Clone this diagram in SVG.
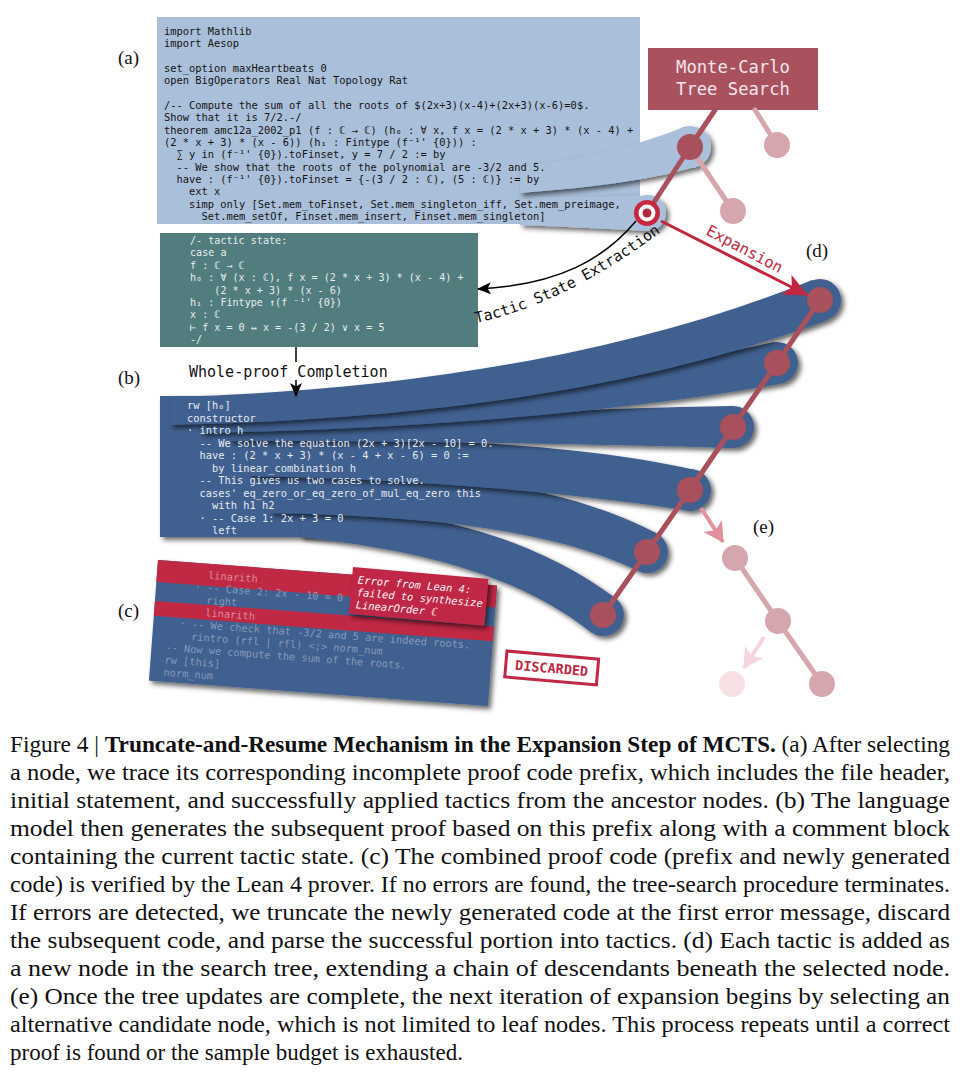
<svg xmlns="http://www.w3.org/2000/svg" width="969" height="1077" viewBox="0 0 969 1077" xml:space="preserve">
<defs>
<style>
.code{font-family:"DejaVu Sans Mono",monospace;white-space:pre;}
.cA{font-size:10.4px;fill:#141414;}
.cT{font-size:10.1px;fill:#E8EEEE;}
.cB{font-size:10.4px;fill:#E6EAF1;}
.cC{font-size:10.3px;fill:#8599B7;}
.cCr{fill:#DE8A9C;}
.lbl{font-family:"Liberation Serif",serif;font-size:19px;fill:#111;}
.cap{font-family:"Liberation Serif",serif;font-size:23px;fill:#111;}
.big{font-family:"DejaVu Sans Mono",monospace;font-size:15px;fill:#111;}
.lb{fill:#AABFD9;}
.db{fill:#41608F;}
.nd{fill:#A8505C;}
.pk{fill:#D6A6AE;}
.edge{stroke:#A8505C;stroke-width:5;stroke-linecap:round;fill:none;}
.pedge{stroke:#D6A6AE;stroke-width:5;stroke-linecap:round;fill:none;}
</style>
<filter id="sh" x="-10%" y="-40%" width="130%" height="190%">
<feDropShadow dx="3" dy="3" stdDeviation="2.5" flood-color="#000" flood-opacity="0.6"/>
</filter>
<marker id="mBlack" markerUnits="userSpaceOnUse" markerWidth="16" markerHeight="14" refX="13" refY="6" orient="auto">
<path d="M0,0 L14,6 L0,12 L3.5,6 Z" fill="#000"/>
</marker>
<marker id="mRed" markerUnits="userSpaceOnUse" markerWidth="26" markerHeight="24" refX="23" refY="11" orient="auto">
<path d="M0,0 L24,11 L0,22 L6,11 Z" fill="#C2273F"/>
</marker>
<marker id="mPink" markerUnits="userSpaceOnUse" markerWidth="24" markerHeight="24" refX="19" refY="11" orient="auto">
<path d="M0,0 L20,11 L0,22 L5,11 Z" fill="#E3909F"/>
</marker>
<marker id="mFaint" markerUnits="userSpaceOnUse" markerWidth="24" markerHeight="24" refX="19" refY="11" orient="auto">
<path d="M0,0 L20,11 L0,22 L5,11 Z" fill="#F6D6DD"/>
</marker>
</defs>

<!-- labels -->
<text class="lbl" x="118" y="64">(a)</text>
<text class="lbl" x="118" y="384">(b)</text>
<text class="lbl" x="118" y="617">(c)</text>
<text class="lbl" x="806" y="257">(d)</text>
<text class="lbl" x="753" y="533">(e)</text>

<!-- (a) code prefix block -->
<g id="block-a">
<rect class="lb" x="157" y="17" width="483" height="207"/>
<g filter="url(#sh)">
<path class="lb" d="M 520 196 C 570 197, 610 197, 640 195 L 650 231 C 610 229, 570 227, 520 225 Z"/>
<circle class="lb" cx="648" cy="213" r="18"/>
</g>
<g filter="url(#sh)">
<path class="lb" d="M 520 166 C 570 161, 630 149, 684 127 L 698 166 C 660 178, 600 187, 520 193 Z"/>
<circle class="lb" cx="690" cy="147" r="21"/>
</g>
<text class="code cA" x="164" y="34.5">import Mathlib</text>
<text class="code cA" x="164" y="46.9">import Aesop</text>
<text class="code cA" x="164" y="71.6">set_option maxHeartbeats 0</text>
<text class="code cA" x="164" y="84">open BigOperators Real Nat Topology Rat</text>
<text class="code cA" x="164" y="108.8">/-- Compute the sum of all the roots of $(2x+3)(x-4)+(2x+3)(x-6)=0$.</text>
<text class="code cA" x="164" y="121.2">Show that it is 7/2.-/</text>
<text class="code cA" x="164" y="133.5">theorem amc12a_2002_p1 (f : ℂ → ℂ) (h₀ : ∀ x, f x = (2 * x + 3) * (x - 4) +</text>
<text class="code cA" x="164" y="145.9">(2 * x + 3) * (x - 6)) (h₁ : Fintype (f⁻¹' {0})) :</text>
<text class="code cA" x="164" y="158.3">  ∑ y in (f⁻¹' {0}).toFinset, y = 7 / 2 := by</text>
<text class="code cA" x="164" y="170.7">  -- We show that the roots of the polynomial are -3/2 and 5.</text>
<text class="code cA" x="164" y="183.1">  have : (f⁻¹' {0}).toFinset = {-(3 / 2 : ℂ), (5 : ℂ)} := by</text>
<text class="code cA" x="164" y="195.4">    ext x</text>
<text class="code cA" x="164" y="207.8">    simp only [Set.mem_toFinset, Set.mem_singleton_iff, Set.mem_preimage,</text>
<text class="code cA" x="164" y="220.2">      Set.mem_setOf, Finset.mem_insert, Finset.mem_singleton]</text>
</g>

<!-- tactic state block -->
<g id="tactic-state">
<rect x="160" y="233" width="318" height="114" fill="#517D7E"/>
<text class="code cT" x="190" y="244">/- tactic state:</text>
<text class="code cT" x="190" y="256.4">case a</text>
<text class="code cT" x="190" y="268.8">f : ℂ → ℂ</text>
<text class="code cT" x="190" y="281.2">h₀ : ∀ (x : ℂ), f x = (2 * x + 3) * (x - 4) +</text>
<text class="code cT" x="190" y="293.6">    (2 * x + 3) * (x - 6)</text>
<text class="code cT" x="190" y="306">h₁ : Fintype ↑(f ⁻¹' {0})</text>
<text class="code cT" x="190" y="318.4">x : ℂ</text>
<text class="code cT" x="190" y="330.8">⊢ f x = 0 ↔ x = -(3 / 2) ∨ x = 5</text>
<text class="code cT" x="190" y="343.2">-/</text>
</g>

<!-- (b) generated proof block with ribbons -->
<g id="block-b">
<rect class="db" x="160" y="396" width="250" height="141" filter="url(#sh)"/>
<g filter="url(#sh)">
<path class="db" d="M 300 506 C 440 508, 540 543, 614 597 L 592 633 C 528 582, 440 552, 300 537 Z"/>
<circle class="db" cx="603" cy="615" r="21"/>
</g>
<g filter="url(#sh)">
<path class="db" d="M 270 469 C 450 468, 570 488, 656 533 L 638 571 C 558 532, 440 516, 270 513 Z"/>
<circle class="db" cx="647" cy="552" r="21"/>
</g>
<g filter="url(#sh)">
<path class="db" d="M 250 439 C 450 436, 600 448, 695 470 L 685 510 C 600 497, 450 480, 250 476 Z"/>
<circle class="db" cx="690" cy="490" r="21"/>
</g>
<g filter="url(#sh)">
<path class="db" d="M 230 421 C 420 417, 600 408, 733 406 L 733 448 C 600 444, 420 441, 230 441 Z"/>
<circle class="db" cx="733" cy="427" r="21"/>
</g>
<g filter="url(#sh)">
<path class="db" d="M 200 409 C 400 405, 620 376, 774 342 L 780 384 C 620 412, 420 429, 200 433 Z"/>
<circle class="db" cx="777" cy="363" r="21"/>
</g>
<g filter="url(#sh)">
<path class="db" d="M 170 397 C 380 392, 620 359, 812 280 L 828 320 C 650 386, 440 419, 170 425 Z"/>
<circle class="db" cx="820" cy="300" r="21"/>
</g>
<text class="code cB" x="187" y="409">rw [h₀]</text>
<text class="code cB" x="187" y="421.5">constructor</text>
<text class="code cB" x="187" y="434">· intro h</text>
<text class="code cB" x="187" y="446.5">  -- We solve the equation (2x + 3)[2x - 10] = 0.</text>
<text class="code cB" x="187" y="459">  have : (2 * x + 3) * (x - 4 + x - 6) = 0 :=</text>
<text class="code cB" x="187" y="471.5">    by linear_combination h</text>
<text class="code cB" x="187" y="484">  -- This gives us two cases to solve.</text>
<text class="code cB" x="187" y="496.5">  cases' eq_zero_or_eq_zero_of_mul_eq_zero this</text>
<text class="code cB" x="187" y="509">    with h1 h2</text>
<text class="code cB" x="187" y="521.5">  · -- Case 1: 2x + 3 = 0</text>
<text class="code cB" x="187" y="534">    left</text>
</g>

<!-- (c) discarded block -->
<g id="block-c" transform="translate(158,560) rotate(4.3)">
<rect class="db" x="0" y="0" width="340" height="121" filter="url(#sh)"/>
<rect x="0" y="0" width="340" height="22" fill="#C02844"/>
<rect x="0" y="41" width="340" height="15" fill="#C02844"/>
<text class="code cC cCr" x="51.2" y="15">linarith</text>
<text class="code cC" x="38.8" y="27.5">· -- Case 2: 2x - 10 = 0</text>
<text class="code cC" x="51.2" y="40">right</text>
<text class="code cC cCr" x="51.2" y="52.5">linarith</text>
<text class="code cC" x="26.4" y="65">· -- We check that -3/2 and 5 are indeed roots.</text>
<text class="code cC" x="38.8" y="77.5">rintro (rfl | rfl) &lt;;&gt; norm_num</text>
<text class="code cC" x="14" y="90">-- Now we compute the sum of the roots.</text>
<text class="code cC" x="14" y="102.5">rw [this]</text>
<text class="code cC" x="14" y="115">norm_num</text>
</g>

<g id="error-box" transform="translate(353,567) rotate(5)">
<rect x="0" y="0" width="136" height="47" fill="#C02844" filter="url(#sh)"/>
<text class="code" x="6" y="16" font-size="10.5" font-style="italic" fill="#FFF4F6">Error from Lean 4:</text>
<text class="code" x="6" y="28.5" font-size="10.5" font-style="italic" fill="#FFF4F6">failed to synthesize</text>
<text class="code" x="6" y="41" font-size="10.5" font-style="italic" fill="#FFF4F6">LinearOrder ℂ</text>
</g>

<g id="discarded-stamp" transform="translate(507,651) rotate(5)">
<rect x="0" y="0" width="92" height="26" fill="#FFFFFF" stroke="#C02844" stroke-width="3"/>
<text class="code" x="46" y="18" font-size="13.5" font-weight="bold" fill="#C02844" text-anchor="middle">DISCARDED</text>
</g>

<!-- MCTS box -->
<g id="mcts-box">
<rect x="648" y="48" width="170" height="62" fill="#A9515D"/>
<text class="code" x="733" y="73" font-size="17.2" fill="#F4E6EE" text-anchor="middle">Monte-Carlo</text>
<text class="code" x="733" y="95" font-size="17.2" fill="#F4E6EE" text-anchor="middle">Tree Search</text>
</g>

<!-- connectors -->
<g id="connectors">
<line class="pedge" x1="755" y1="110" x2="777" y2="145"/>
<line class="pedge" x1="690" y1="147" x2="733" y2="211"/>
<line class="edge" x1="715" y1="110" x2="690" y2="147"/>
<line class="edge" x1="690" y1="147" x2="647" y2="213"/>
<polyline class="edge" stroke-width="4.5" points="820,300 777,363 733,427 690,490 647,552 603,615"/>
<line class="pedge" stroke-width="4.5" x1="735" y1="558" x2="778" y2="621"/>
<line class="pedge" stroke-width="4.5" x1="778" y1="621" x2="822" y2="684"/>
<path d="M 636 221 C 605 258, 560 285, 478 289" fill="none" stroke="#000" stroke-width="1.5" marker-end="url(#mBlack)"/>
<line x1="296" y1="347" x2="296" y2="362" stroke="#000" stroke-width="1.5"/>
<line x1="296" y1="380" x2="296" y2="396" stroke="#000" stroke-width="1.5" marker-end="url(#mBlack)"/>
<line x1="661" y1="221" x2="807" y2="295" stroke="#C2273F" stroke-width="3" marker-end="url(#mRed)"/>
<line x1="701" y1="508" x2="723" y2="542" stroke="#E3909F" stroke-width="4" marker-end="url(#mPink)"/>
<line x1="764" y1="637" x2="744" y2="668" stroke="#F6D6DD" stroke-width="4" marker-end="url(#mFaint)"/>
</g>

<!-- connector labels -->
<path id="tsePath" d="M 476 323 Q 569 303 670 225" fill="none"/>
<text class="big"><textPath href="#tsePath">Tactic State Extraction</textPath></text>
<text class="code" x="0" y="0" font-size="15.5" fill="#C2273F" transform="translate(705,234) rotate(28)">Expansion</text>
<text class="big" x="189" y="377">Whole-proof Completion</text>

<!-- nodes -->
<g id="node-root"><circle class="nd" cx="690" cy="147" r="13"/></g>
<g id="node-faded-1"><circle class="pk" cx="777" cy="145" r="13"/></g>
<g id="node-faded-2"><circle class="pk" cx="733" cy="211" r="13"/></g>
<g id="node-selected">
<circle cx="647" cy="213" r="13" fill="#C8283F"/>
<circle cx="647" cy="213" r="8.5" fill="#FFFFFF"/>
<circle cx="647" cy="213" r="4.5" fill="#B3283C"/>
</g>
<g id="node-d1"><circle class="nd" cx="820" cy="300" r="13"/></g>
<g id="node-d2"><circle class="nd" cx="777" cy="363" r="13"/></g>
<g id="node-d3"><circle class="nd" cx="733" cy="427" r="13"/></g>
<g id="node-d4"><circle class="nd" cx="690" cy="490" r="13"/></g>
<g id="node-d5"><circle class="nd" cx="647" cy="552" r="13"/></g>
<g id="node-d6"><circle class="nd" cx="603" cy="615" r="13"/></g>
<g id="node-e1"><circle class="pk" cx="735" cy="558" r="13"/></g>
<g id="node-e2"><circle class="pk" cx="778" cy="621" r="13"/></g>
<g id="node-e3"><circle class="pk" cx="822" cy="684" r="13"/></g>
<g id="node-e4"><circle cx="732" cy="684" r="13" fill="#F7E0E4"/></g>

<!-- caption -->
<g id="caption">
<text class="cap" x="10" y="752" textLength="940" lengthAdjust="spacingAndGlyphs">Figure 4 | <tspan font-weight="bold">Truncate-and-Resume Mechanism in the Expansion Step of MCTS.</tspan> (a) After selecting</text>
<text class="cap" x="10" y="780" textLength="940" lengthAdjust="spacingAndGlyphs">a node, we trace its corresponding incomplete proof code prefix, which includes the file header,</text>
<text class="cap" x="10" y="808" textLength="940" lengthAdjust="spacingAndGlyphs">initial statement, and successfully applied tactics from the ancestor nodes. (b) The language</text>
<text class="cap" x="10" y="836" textLength="940" lengthAdjust="spacingAndGlyphs">model then generates the subsequent proof based on this prefix along with a comment block</text>
<text class="cap" x="10" y="864" textLength="940" lengthAdjust="spacingAndGlyphs">containing the current tactic state. (c) The combined proof code (prefix and newly generated</text>
<text class="cap" x="10" y="892" textLength="940" lengthAdjust="spacingAndGlyphs">code) is verified by the Lean 4 prover. If no errors are found, the tree-search procedure terminates.</text>
<text class="cap" x="10" y="920" textLength="940" lengthAdjust="spacingAndGlyphs">If errors are detected, we truncate the newly generated code at the first error message, discard</text>
<text class="cap" x="10" y="948" textLength="940" lengthAdjust="spacingAndGlyphs">the subsequent code, and parse the successful portion into tactics. (d) Each tactic is added as</text>
<text class="cap" x="10" y="976" textLength="940" lengthAdjust="spacingAndGlyphs">a new node in the search tree, extending a chain of descendants beneath the selected node.</text>
<text class="cap" x="10" y="1004" textLength="940" lengthAdjust="spacingAndGlyphs">(e) Once the tree updates are complete, the next iteration of expansion begins by selecting an</text>
<text class="cap" x="10" y="1032" textLength="940" lengthAdjust="spacingAndGlyphs">alternative candidate node, which is not limited to leaf nodes. This process repeats until a correct</text>
<text class="cap" x="10" y="1060">proof is found or the sample budget is exhausted.</text>
</g>
</svg>
